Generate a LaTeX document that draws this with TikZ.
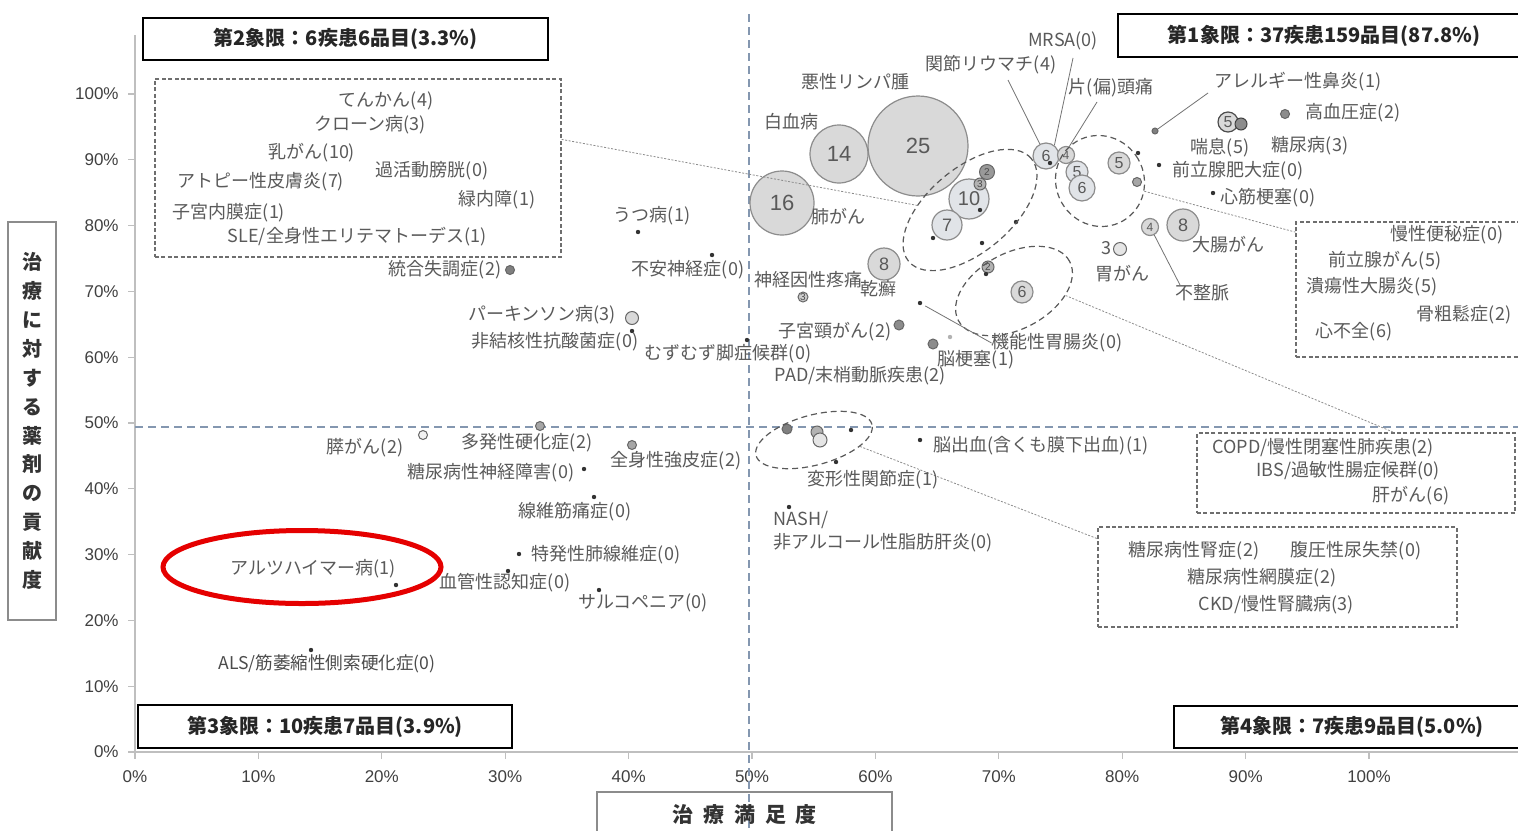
\documentclass[tikz,border=0pt]{standalone}
\usepackage{fontspec}
\setmainfont{Liberation Sans}
\newfontfamily\cjk{Noto Sans CJK JP}
\usetikzlibrary{shapes.geometric}
\definecolor{lblc}{HTML}{5A5A5A}
\definecolor{bubf}{HTML}{D9D9D9}
\definecolor{bubl}{HTML}{E1E4E8}
\definecolor{bubd}{HTML}{8C8C8C}
\definecolor{midc}{HTML}{8497B0}
\definecolor{axc}{HTML}{BFBFBF}
\definecolor{dotc}{HTML}{333333}
\definecolor{boxc}{HTML}{6E6E6E}
\definecolor{linec}{HTML}{8C8C8C}
\definecolor{redc}{HTML}{E50000}
\tikzset{
  lbl/.style={font=\cjk\fontsize{9}{10}\selectfont, text=lblc, inner sep=0pt},
  bub/.style={circle, draw=bubd, fill=bubf, line width=0.6pt, inner sep=0pt, text=black!65, font=\fontsize{11}{11}\selectfont},
  sbub/.style={circle, draw=black!60, line width=0.5pt, inner sep=0pt, text=black!70, font=\fontsize{5}{5}\selectfont},
  dbox/.style={draw=boxc, line width=0.6pt, dash pattern=on 2pt off 1.2pt, inner sep=0pt},
  dell/.style={ellipse, draw=black!65, line width=0.6pt, dash pattern=on 3pt off 2pt, inner sep=0pt},
  conn/.style={draw=linec, line width=0.4pt, dash pattern=on 1pt off 0.8pt},
  lead/.style={draw=black!55, line width=0.4pt},
  qbox/.style={draw=black, fill=white, line width=1pt, inner sep=0pt, font=\cjk\bfseries\fontsize{10}{12}\selectfont, text=black!85},
  tick/.style={font=\fontsize{8.5}{10}\selectfont, text=black!75, inner sep=0pt},
  midline/.style={draw=midc, line width=0.8pt, dash pattern=on 4pt off 2.5pt}
}
\begin{document}
\begin{tikzpicture}[x=0.5pt,y=-0.5pt]
\useasboundingbox (0,0) rectangle (1518,830);
\fill[white] (0,0) rectangle (1518,830);

% axes
\draw[axc, line width=0.8pt] (135,35) -- (135,752) -- (1518,752);
\foreach \k in {0,...,10}{
  \pgfmathsetmacro\yy{752-65.8*\k}
  \pgfmathsetmacro\xx{135+123.4*\k}
  \pgfmathtruncatemacro\pp{10*\k}
  \draw[axc, line width=0.6pt] (128,\yy) -- (135,\yy);
  \draw[axc, line width=0.6pt] (\xx,752) -- (\xx,759);
  \node[tick, anchor=east] (yt\k) at (119,\yy) {\pp\%};
  \node[tick] (xt\k) at (\xx,777) {\pp\%};
}

% mid lines
\draw[midline] (749,14) -- (749,830);
\draw[midline] (135,427) -- (1518,427);

% quadrant boxes
\node[qbox, minimum width=202.5pt, minimum height=21pt] (q2) at (345.5,39) {第2象限：6疾患6品目(3.3\%)};
\node[qbox, minimum width=206pt, minimum height=21.5pt] (q1) at (1324,35.5) {第1象限：37疾患159品目(87.8\%)};
\node[qbox, minimum width=187pt, minimum height=21.5pt] (q3) at (325,726.5) {第3象限：10疾患7品目(3.9\%)};
\node[qbox, minimum width=178pt, minimum height=21pt] (q4) at (1352,727) {第4象限：7疾患9品目(5.0\%)};

% axis titles
\node[draw=black!45, line width=0.6pt, minimum width=24pt, minimum height=199pt, inner sep=0pt, align=center,
      font=\cjk\bfseries\fontsize{10}{14.45}\selectfont, text=black!80] (ytitle) at (32,421)
  {治\\療\\に\\対\\す\\る\\薬\\剤\\の\\貢\\献\\度};
\node[draw=black!45, line width=0.6pt, minimum width=147.5pt, minimum height=23pt, inner sep=0pt,
      font=\cjk\bfseries\fontsize{10.5}{12}\selectfont, text=black!80] (xtitle) at (744.5,815)
  {治\hspace{5pt}療\hspace{5pt}満\hspace{5pt}足\hspace{5pt}度};

% dashed list boxes
\node[dbox, minimum width=203pt, minimum height=89pt] (boxA) at (358,168) {};
\node[dbox, minimum width=117pt, minimum height=67.5pt] (boxB) at (1413,289.5) {};
\node[dbox, minimum width=159pt, minimum height=40pt] (boxC) at (1356,473) {};
\node[dbox, minimum width=179.5pt, minimum height=50pt] (boxD) at (1277.5,577) {};

% box A texts
\node[lbl] (tA1) at (386,101) {てんかん(4)};
\node[lbl] (tA2) at (370,125) {クローン病(3)};
\node[lbl] (tA3) at (312,153) {乳がん(10)};
\node[lbl] (tA4) at (432,171) {過活動膀胱(0)};
\node[lbl] (tA5) at (261,182) {アトピー性皮膚炎(7)};
\node[lbl] (tA6) at (497,200) {緑内障(1)};
\node[lbl] (tA7) at (229,213) {子宮内膜症(1)};
\node[lbl] (tA8) at (357,237) {SLE/全身性エリテマトーデス(1)};

% box B texts
\node[lbl] (tB1) at (1447,235) {慢性便秘症(0)};
\node[lbl] (tB2) at (1385,261) {前立腺がん(5)};
\node[lbl] (tB3) at (1372,287) {潰瘍性大腸炎(5)};
\node[lbl] (tB4) at (1464,315) {骨粗鬆症(2)};
\node[lbl] (tB5) at (1354,332) {心不全(6)};

% box C texts
\node[lbl] (tC1) at (1323,448) {COPD/慢性閉塞性肺疾患(2)};
\node[lbl] (tC2) at (1348,471) {IBS/過敏性腸症候群(0)};
\node[lbl] (tC3) at (1411,496) {肝がん(6)};

% box D texts
\node[lbl] (tD1) at (1194,551) {糖尿病性腎症(2)};
\node[lbl] (tD2) at (1356,551) {腹圧性尿失禁(0)};
\node[lbl] (tD3) at (1262,578) {糖尿病性網膜症(2)};
\node[lbl] (tD4) at (1276,605) {CKD/慢性腎臓病(3)};

% bubbles
\node[bub, minimum size=32pt] (b16) at (782,203) {16};
\node[bub, minimum size=29pt] (b14) at (839,154) {14};
\node[bub, minimum size=50pt] (b25) at (918,146) {25};
\node[bub, fill=bubl, minimum size=20pt, font=\fontsize{10}{10}\selectfont] (b10) at (969,199) {10};
\node[bub, fill=bubl, minimum size=15pt, font=\fontsize{9}{9}\selectfont] (b7) at (947,225) {7};
\node[bub, minimum size=16pt, font=\fontsize{9}{9}\selectfont] (b8a) at (884,264) {8};
\node[bub, minimum size=16pt, font=\fontsize{9}{9}\selectfont] (b8b) at (1183,225) {8};
\node[bub, fill=bubl, minimum size=13pt, font=\fontsize{8}{8}\selectfont] (b6a) at (1046,156) {6};
\node[bub, minimum size=8.5pt, font=\fontsize{6}{6}\selectfont] (b4a) at (1066,155) {4};
\node[bub, fill=bubl, minimum size=11pt, font=\fontsize{8}{8}\selectfont] (b5a) at (1077,172) {5};
\node[bub, fill=bubl, minimum size=13pt, font=\fontsize{8}{8}\selectfont] (b6b) at (1082,188) {6};
\node[bub, minimum size=11pt, font=\fontsize{8}{8}\selectfont] (b5b) at (1119,163) {5};
\node[bub, draw=black!70, minimum size=10pt, font=\fontsize{8}{8}\selectfont] (b5c) at (1228,122) {5};
\node[bub, minimum size=8.5pt, font=\fontsize{6}{6}\selectfont] (b4b) at (1150,227) {4};
\node[bub, minimum size=11pt, font=\fontsize{8}{8}\selectfont] (b6c) at (1022,292) {6};

% small circles
\node[sbub, fill=black!40, minimum size=7.5pt] (s1) at (987,172) {2};
\node[sbub, fill=black!30, minimum size=6pt] (s2) at (980,184) {3};
\node[sbub, fill=black!45, draw=black!75, minimum size=6pt] (s3) at (1241,124) {};
\node[sbub, fill=black!45, minimum size=4.5pt] (s4) at (1285,114) {};
\node[sbub, fill=black!35, minimum size=4.5pt] (s5) at (1137,182) {};
\node[sbub, fill=black!10, minimum size=6.5pt] (s6) at (1120,249) {};
\node[sbub, fill=black!20, minimum size=5pt] (s7) at (803,297) {3};
\node[sbub, fill=black!45, minimum size=5pt] (s8) at (899,325) {};
\node[sbub, fill=black!45, minimum size=5pt] (s9) at (933,344) {};
\node[sbub, fill=black!30, minimum size=6pt] (s10) at (988,267) {2};
\node[sbub, fill=black!50, minimum size=5pt] (s11) at (787,429) {};
\node[sbub, fill=black!30, minimum size=6pt] (s12) at (817,432) {};
\node[sbub, fill=black!10, minimum size=7pt] (s13) at (820,440) {};
\node[sbub, fill=black!50, minimum size=4.5pt] (s14) at (510,270) {};
\node[sbub, fill=black!15, minimum size=6.5pt] (s15) at (632,318) {};
\node[sbub, fill=black!5, minimum size=4.5pt] (s16) at (423,435) {};
\node[sbub, fill=black!35, minimum size=4.5pt] (s17) at (540,426) {};
\node[sbub, fill=black!35, minimum size=4.5pt] (s18) at (632,445) {};
\node[sbub, fill=black!50, minimum size=3pt] (s19) at (1155,131) {};

% dots
\coordinate (d1) at (638,232);
\coordinate (d2) at (712,255);
\coordinate (d3) at (632,331);
\coordinate (d4) at (747,340);
\coordinate (d5) at (584,469);
\coordinate (d6) at (594,497);
\coordinate (d7) at (519,554);
\coordinate (d8) at (508,571);
\coordinate (d9) at (396,585);
\coordinate (d10) at (599,590);
\coordinate (d11) at (311,650);
\coordinate (d12) at (980,210);
\coordinate (d13) at (933,238);
\coordinate (d14) at (982,243);
\coordinate (d15) at (1016,222);
\coordinate (d16) at (1050,163);
\coordinate (d17) at (1138,153);
\coordinate (d18) at (1159,165);
\coordinate (d19) at (1213,193);
\coordinate (d20) at (920,303);
\coordinate (d21) at (986,274);
\coordinate (d22) at (851,430);
\coordinate (d23) at (836,462);
\coordinate (d24) at (920,440);
\coordinate (d25) at (789,507);
\coordinate (d26) at (950,337);
\foreach \n in {d1,d2,d3,d4,d5,d6,d7,d8,d9,d10,d11,d12,d13,d14,d15,d16,d17,d18,d19,d20,d21,d22,d23,d24,d25}
  \fill[dotc] (\n) circle[radius=1.1pt];
\fill[black!30] (d26) circle[radius=1.1pt];

% dashed ellipses
\node[dell, minimum width=80pt, minimum height=42pt, rotate=40] (e1) at (970,210) {};
\node[dell, minimum width=44pt, minimum height=46pt, rotate=30] (e2) at (1100,181) {};
\node[dell, minimum width=63pt, minimum height=38pt, rotate=28] (e3) at (1014,291) {};
\node[dell, minimum width=60pt, minimum height=25pt, rotate=15] (e4) at (814,440) {};
\node[ellipse, draw=redc, line width=2.5pt, minimum width=139pt, minimum height=36.5pt, inner sep=0pt] (red) at (302,567) {};

% dotted connectors between groups and boxes
\draw[conn] (boxA.8) -- (e1.135);
\draw[conn] (e2.317) -- (boxB.154);
\draw[conn] (e3.327) -- (boxC.47);
\draw[conn] (e4.337) -- (boxD.168);

% Q1 labels
\node[lbl] (lMal) at (855,82) {悪性リンパ腫};
\node[lbl] (lLeu) at (791,122) {白血病};
\node[lbl] (lLung) at (838,217) {肺がん};
\node[lbl] (lRA) at (991,65) {関節リウマチ(4)};
\node[lbl] (lMRSA) at (1063,41) {MRSA(0)};
\node[lbl] (lMig) at (1111,88) {片(偏)頭痛};
\node[lbl] (lAll) at (1298,82) {アレルギー性鼻炎(1)};
\node[lbl] (lHT) at (1353,113) {高血圧症(2)};
\node[lbl] (lAs) at (1220,148) {喘息(5)};
\node[lbl] (lDM) at (1310,146) {糖尿病(3)};
\node[lbl] (lBPH) at (1238,171) {前立腺肥大症(0)};
\node[lbl] (lMI) at (1268,198) {心筋梗塞(0)};
\node[lbl] (lCRC) at (1228,245) {大腸がん};
\node[lbl] (lGC3) at (1106,248) {3};
\node[lbl] (lGC) at (1122,274) {胃がん};
\node[lbl] (lArr) at (1202,293) {不整脈};
\node[lbl] (lNP) at (808,280) {神経因性疼痛};
\node[lbl] (lPso) at (878,289) {乾癬};
\node[lbl] (lCC) at (835,332) {子宮頸がん(2)};
\node[lbl] (lFD) at (1057,343) {機能性胃腸炎(0)};
\node[lbl] (lCI) at (976,360) {脳梗塞(1)};
\node[lbl] (lPAD) at (860,376) {PAD/末梢動脈疾患(2)};
\node[lbl] (lICH) at (1041,446) {脳出血(含くも膜下出血)(1)};
\node[lbl] (lOA) at (873,480) {変形性関節症(1)};
\node[lbl, anchor=west] (lNASH) at (773,520) {NASH/};
\node[lbl, anchor=west] (lNASH2) at (773,543) {非アルコール性脂肪肝炎(0)};

% left-side labels
\node[lbl] (lSch) at (445,270) {統合失調症(2)};
\node[lbl] (lDep) at (652,216) {うつ病(1)};
\node[lbl] (lAnx) at (688,270) {不安神経症(0)};
\node[lbl] (lPD) at (542,315) {パーキンソン病(3)};
\node[lbl] (lNTM) at (555,342) {非結核性抗酸菌症(0)};
\node[lbl] (lRLS) at (728,354) {むずむず脚症候群(0)};
\node[lbl] (lPan) at (365,448) {膵がん(2)};
\node[lbl] (lMS) at (527,443) {多発性硬化症(2)};
\node[lbl] (lSSc) at (676,461) {全身性強皮症(2)};
\node[lbl] (lDPN) at (491,473) {糖尿病性神経障害(0)};
\node[lbl] (lFM) at (575,512) {線維筋痛症(0)};
\node[lbl] (lIPF) at (606,555) {特発性肺線維症(0)};
\node[lbl] (lVD) at (505,583) {血管性認知症(0)};
\node[lbl] (lAD) at (313,569) {アルツハイマー病(1)};
\node[lbl] (lSar) at (643,603) {サルコペニア(0)};
\node[lbl, font=\cjk\fontsize{8.8}{9}\selectfont, text=black!70] (lALS) at (327,664) {ALS/筋萎縮性側索硬化症(0)};

% leader lines
\coordinate (cRA) at (1008,80);
\coordinate (cMRSA) at (1073,58);
\coordinate (cMig) at (1097,102);
\coordinate (cAll) at (1208,93);
\coordinate (cArr) at (1180,285);
\draw[lead] (cRA) -- (b6a.117);
\draw[lead] (cMRSA) -- (b6a.52);
\draw[lead] (cMig) -- (b4a.69);
\draw[lead] (cAll) -- (s19);
\draw[lead] (cArr) -- (b4b.298);
\draw[lead, shorten <=3pt] (d20) -- (lFD.west);
\end{tikzpicture}
\end{document}
